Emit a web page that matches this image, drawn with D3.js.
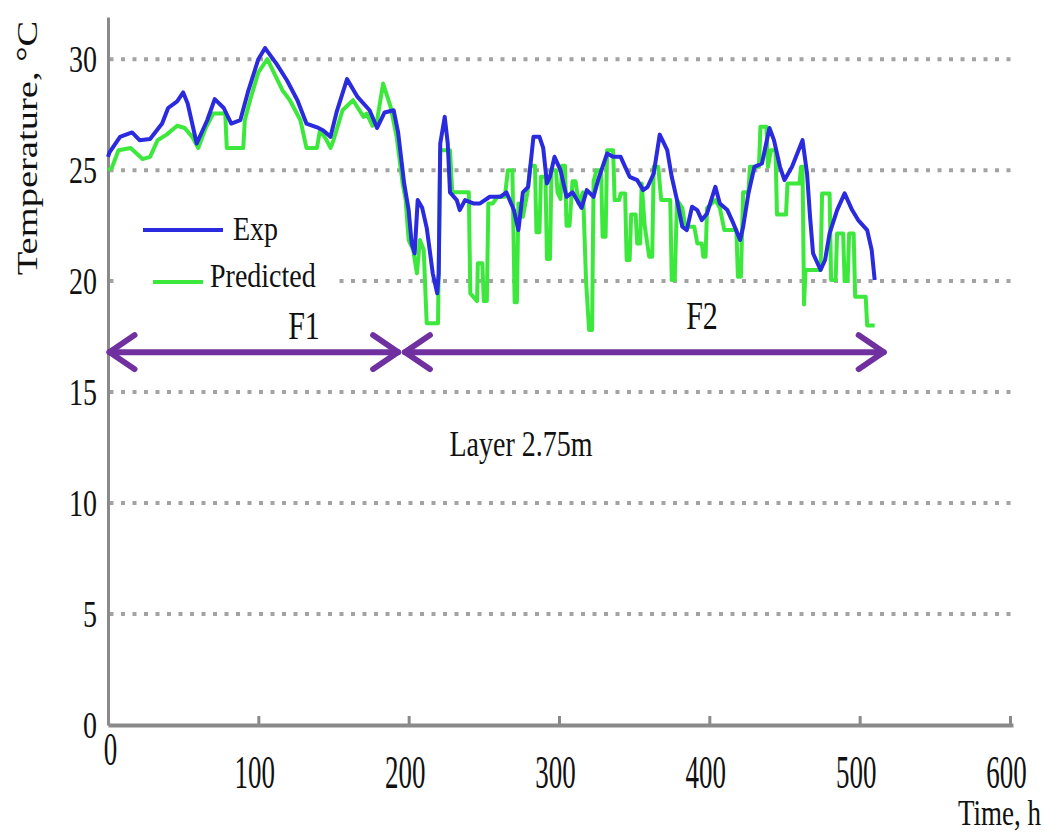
<!DOCTYPE html>
<head>
  <meta charset="utf-8">
  <script src="https://d3js.org/d3.v7.min.js"></script>
  <style>
    body {
      margin: 0;
      background: white;
    }
    text {
      font-family: "Liberation Serif", "Times New Roman", serif;
      fill: #111;
    }
  </style>
</head>

<body>
  <svg id="svg1"></svg>

  <script>
    // tick values for both axes
    var xTicks = [0, 100, 200, 300, 400, 500, 600];
    var yTicks = [0, 5, 10, 15, 20, 25, 30];

    // measured temperature, [time h, temp C]
    var expSeries = [[0,25.6],[1,25.8],[8,26.5],[16,26.7],[21,26.35],[28,26.4],[36,27.1],[40,27.8],[46,28.1],[50,28.5],
      [53,28.0],[59,26.2],[66,27.25],[71,28.2],[77,27.8],[82,27.1],[88,27.25],[93,28.5],[100,30.0],[104.5,30.5],
      [112,29.8],[119,29.05],[126,28.15],[132,27.1],[140,26.9],[143,26.8],[148,26.5],[152,27.6],[159,29.1],[166,28.3],
      [174,27.7],[179,26.9],[184,27.6],[190,27.7],[193,26.7],[197,24.4],[200,23.2],[202,21.7],[204,21.25],[206,23.65],
      [209,23.3],[212,22.4],[214,21.4],[216,20.35],[219,19.45],[220,20.35],[221,26.2],[224,27.4],[226,26.2],[227.5,24.0],
      [232,23.65],[234,23.2],[237.5,23.65],[243,23.5],[247.5,23.5],[254,23.8],[261,23.8],[265,24.0],[270,23.2],[273,22.3],
      [276,24.0],[279.5,24.25],[283,26.5],[287,26.5],[289.5,26.0],[292,24.4],[294,24.7],[297,25.6],[301,25.0],[305,23.8],
      [309,24.0],[312,23.65],[315,23.3],[318.5,24.1],[323,23.8],[326,24.55],[332,25.75],[336,25.6],[341,25.6],[344,25.15],
      [347,24.7],[352,24.55],[356,24.1],[359,24.25],[363,24.85],[367,26.6],[372,25.9],[375,24.7],[378.5,23.65],[382,22.45],
      [385,22.3],[388.5,23.35],[392,23.2],[395,22.75],[398.5,23.05],[404,24.25],[407,23.5],[412,23.2],[416,22.6],[420.5,21.85],
      [422.5,22.45],[426,23.95],[430,25.15],[435,25.3],[440,26.9],[443,26.35],[447,25.15],[450,24.55],[455,25.15],[462,26.35],
      [465,24.85],[467,22.9],[469,21.25],[474,20.5],[477,20.95],[480,22.15],[485,23.2],[490,23.95],[495,23.2],[499,22.75],
      [505,22.3],[508,21.4],[510,20.05]];

    // model output, [time h, temp C]
    var predSeries = [[0,25.0],[2.5,25.1],[7,25.9],[15,26.0],[19,25.75],[23,25.5],[28,25.6],[33,26.35],[39,26.6],[46,27.0],
      [51,26.9],[56,26.5],[60,26.0],[65,26.9],[70,27.55],[78,27.55],[79,26.0],[90,26.0],[91,27.25],[94.5,28.15],
      [100,29.4],[106,30.0],[116,28.6],[121,28.15],[128,27.25],[132,26.0],[139,26.0],[141,26.8],[145,26.4],[148,26.0],
      [150,26.35],[156,27.7],[163,28.15],[170,27.4],[172,27.55],[176,27.0],[179,27.25],[183,28.9],[188,27.85],[192,26.5],
      [196,24.4],[198,23.65],[200,21.85],[203,21.4],[205.5,20.35],[207.5,21.85],[210,21.4],[212,18.1],[219.5,18.1],[221,25.9],
      [227.5,25.9],[229,24.0],[240,24.0],[241,19.45],[245.5,19.1],[246,20.8],[249,20.8],[250,19.1],[252,19.1],[253,23.5],
      [256,23.5],[259,23.8],[264,23.8],[266,25.0],[269,25.0],[270.5,19.05],[272,19.05],[273,23.5],[276,22.9],[279,24.0],
      [281,25.2],[284,25.2],[285,22.2],[287,22.2],[288,24.7],[291,24.7],[292,21.0],[294,21.0],[295,25.0],[298,25.0],
      [299,24.0],[301,23.7],[302,25.2],[304,25.2],[305,22.5],[307,22.5],[309,24.5],[311,24.5],[313,23.5],[316,24.0],
      [318,20.0],[320,17.8],[322,17.8],[323,24.5],[325,25.0],[328,25.0],[329,22.0],[331,22.0],[332,25.9],[336,25.9],
      [337,23.65],[340,23.65],[341,23.95],[344,23.95],[345,20.95],[347,20.95],[348,23.0],[351,23.0],[352,21.7],[354,21.7],
      [355,24.4],[357,22.5],[360,21.1],[362,21.1],[363,25.15],[366,25.15],[368,23.65],[374,23.65],[375,20.05],[377,20.05],
      [378.5,23.65],[382,23.3],[384,22.45],[390,22.45],[392,21.7],[395,21.7],[396,21.1],[397.5,21.1],[398.5,23.3],[404,23.65],
      [407,23.3],[410,22.3],[418,22.3],[419,20.2],[421,20.2],[422.5,24.0],[426,24.0],[427,25.15],[433,25.15],[434,26.95],
      [438,26.95],[439,25.15],[441,25.9],[444,25.9],[445,23.0],[451,23.0],[452,24.4],[460,24.4],[461,25.15],[462,25.15],
      [463,18.95],[464,20.5],[474,20.5],[475,23.95],[480,23.95],[481,20.05],[484,20.05],[485,22.15],[489,22.15],[490,20.0],
      [492,20.0],[493,22.15],[496,22.15],[497,19.3],[504,19.3],[505,18.0],[510,18.0]];

    // the two periods marked by arrows
    var periodNames = ["F1", "F2"];
    var periodStart = [1, 197.5];
    var periodEnd = [193, 516];
    var periodLevel = 16.8;

    var seriesNames = ["Exp", "Predicted"];

    var width = 1045;
    var height = 834;
    var blue = "#2a2ade";
    var green = "#3de83d";
    var purple = "#7030a0";

    var svg = d3.select("#svg1")
      .attr("width", width)
      .attr("height", height);

    var x = d3.scaleLinear().domain([0, 602]).range([108, 1013]);
    var y = d3.scaleLinear().domain([0, 31.9]).range([725, 17]);

    //dotted grid lines
    svg.append("g")
      .selectAll("line")
      .data(yTicks.filter(d => d > 0))
      .enter().append("line")
      .attr("x1", x(1))
      .attr("x2", x(602))
      .attr("y1", d => y(d))
      .attr("y2", d => y(d))
      .attr("stroke", "#a3a3a3")
      .attr("stroke-width", 4)
      .attr("stroke-dasharray", "4,7.5");

    //y axis
    var yAxis = svg.append("g")
      .attr("transform", "translate(" + x(0) + ",0)")
      .call(d3.axisLeft(y).tickValues(yTicks).tickSize(0).tickPadding(11));
    yAxis.select(".domain").attr("stroke", "#8a8a8a").attr("stroke-width", 3);
    yAxis.selectAll("text")
      .attr("font-size", 28)
      .attr("font-family", "Liberation Serif")
      .attr("fill", "#111")
      .attr("transform", "scale(1,1.35)");

    //x axis, ticks pointing up
    var xAxis = svg.append("g")
      .attr("transform", "translate(0," + y(0) + ")")
      .call(d3.axisBottom(x).tickValues(xTicks).tickSizeInner(-9).tickSizeOuter(0));
    xAxis.select(".domain").attr("stroke", "#8a8a8a").attr("stroke-width", 4);
    xAxis.selectAll(".tick line").attr("stroke", "#8a8a8a").attr("stroke-width", 3);
    xAxis.selectAll(".tick").filter(d => d == 0).select("line").remove();
    xAxis.selectAll("text")
      .attr("font-size", 27)
      .attr("font-family", "Liberation Serif")
      .attr("fill", "#111")
      .attr("dy", null)
      .attr("x", d => d == 0 ? 2 : -4)
      .attr("y", d => d == 0 ? 23 : 36)
      .attr("transform", "scale(1,1.75)");

    //axis titles
    svg.append("text")
      .attr("transform", "translate(27,148) rotate(-90) scale(1.33,1)")
      .attr("text-anchor", "middle")
      .attr("dy", "0.35em")
      .attr("font-size", 29)
      .text("Temperature, \u00b0C");

    svg.append("text")
      .attr("transform", "translate(1041,825) scale(1,1.3)")
      .attr("text-anchor", "end")
      .attr("font-size", 27)
      .text("Time, h");

    //lines
    var line = d3.line()
      .x(d => x(d[0]))
      .y(d => y(d[1]));

    svg.append("path")
      .datum(predSeries)
      .attr("d", line)
      .attr("fill", "none")
      .attr("stroke", green)
      .attr("stroke-width", 4)
      .attr("stroke-linejoin", "round");

    svg.append("path")
      .datum(expSeries)
      .attr("d", line)
      .attr("fill", "none")
      .attr("stroke", blue)
      .attr("stroke-width", 4)
      .attr("stroke-linejoin", "round");

    //legend with a white box over the grid
    var legend = svg.append("g");
    legend.append("rect")
      .attr("x", 118).attr("y", 200)
      .attr("width", 215).attr("height", 100)
      .attr("fill", "white");
    var legendColors = [blue, green];
    var legendRows = [
      {x1: 143, x2: 223, ly: 230, tx: 233, ty: 240},
      {x1: 153, x2: 203, ly: 282, tx: 210, ty: 287}
    ];
    seriesNames.forEach(function(name, i) {
      var r = legendRows[i];
      legend.append("line")
        .attr("x1", r.x1).attr("x2", r.x2)
        .attr("y1", r.ly).attr("y2", r.ly)
        .attr("stroke", legendColors[i])
        .attr("stroke-width", 4);
      legend.append("text")
        .attr("transform", "translate(" + r.tx + "," + r.ty + ") scale(1,1.2)")
        .attr("font-size", 28)
        .text(name);
    });

    //period arrows
    var labelPos = [[304, 339], [702, 329]];
    periodNames.forEach(function(name, i) {
      var x1 = x(periodStart[i]);
      var x2 = x(periodEnd[i]);
      var yy = y(periodLevel);
      var g = svg.append("g")
        .attr("fill", "none")
        .attr("stroke", purple)
        .attr("stroke-width", 6)
        .attr("stroke-linecap", "round")
        .attr("stroke-linejoin", "round");
      g.append("line").attr("x1", x1).attr("x2", x2).attr("y1", yy).attr("y2", yy);
      g.append("path").attr("d", "M" + (x1 + 25) + "," + (yy - 17) + "L" + x1 + "," + yy + "L" + (x1 + 25) + "," + (yy + 17));
      g.append("path").attr("d", "M" + (x2 - 25) + "," + (yy - 17) + "L" + x2 + "," + yy + "L" + (x2 - 25) + "," + (yy + 17));
      svg.append("text")
        .attr("transform", "translate(" + labelPos[i][0] + "," + labelPos[i][1] + ") scale(1,1.3)")
        .attr("text-anchor", "middle")
        .attr("font-size", 30)
        .text(name);
    });

    svg.append("text")
      .attr("transform", "translate(521,456) scale(1,1.3)")
      .attr("text-anchor", "middle")
      .attr("font-size", 28)
      .text("Layer 2.75m");
  </script>
</body>
